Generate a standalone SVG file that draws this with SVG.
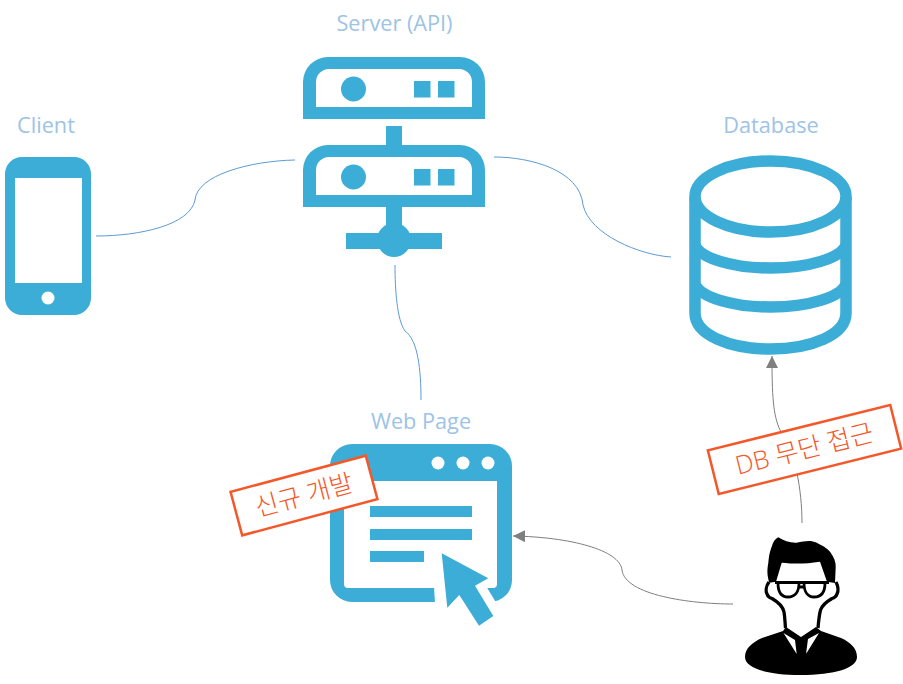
<svg xmlns="http://www.w3.org/2000/svg" width="903" height="684" viewBox="0 0 903 684">
<style>
.lbl{font-family:"Open Sans","Liberation Sans",sans-serif;font-weight:400;font-size:21.700px;fill:#9DC3E6;text-anchor:middle}
.ic{fill:#3CADD6}
.icl{fill:none;stroke:#3CADD6}
.w{fill:#fff}
.blue{fill:none;stroke:#5B9BD5;stroke-width:1}
.gray{fill:none;stroke:#7F7F7F;stroke-width:1;marker-end:url(#ah)}
.tag{fill:#fff;stroke:#F4582A;stroke-width:2.500}
.tagt{font-family:"Open Sans","Noto Sans CJK KR",sans-serif;font-weight:300;font-size:25.500px;fill:#F4582A;text-anchor:middle}
</style>
<defs>
<marker id="ah" markerUnits="userSpaceOnUse" markerWidth="12" markerHeight="12" refX="12" refY="6" orient="auto"><path d="M0 0L12 6L0 12Z" fill="#7F7F7F"/></marker>
<g id="unit">
<path class="ic" fill-rule="evenodd" d="M303 119V82a25 25 0 0 1 25-25H460a25 25 0 0 1 25 25V119ZM316 107H472V82a13 13 0 0 0-13-13H329a13 13 0 0 0-13 13Z"/>
<circle class="ic" cx="353.500" cy="89" r="12.500"/>
<rect class="ic" x="414" y="81" width="16.500" height="16.500"/>
<rect class="ic" x="438" y="81" width="16.500" height="16.500"/>
</g>
</defs>
<rect width="903" height="684" fill="#fff"/>
<g id="connectors">
<path class="blue" d="M96 236C140 236 190 225 195 200C197 175 250 161 295 160"/>
<path class="blue" d="M494 157C530 157 580 170 583 205C590 235 640 255 671 257"/>
<path class="blue" d="M395 265C395 290 397 320 405 331C418 340 421 370 421 400"/>
<path class="gray" d="M733 604C690 604 625 595 622 570C620 550 570 537 513 536"/>
<path class="gray" d="M802 523C802 490 795 450 780 430C773 415 772 395 772 356"/>
</g>
<g id="client">
<text class="lbl" x="46" y="132.500">Client</text>
<rect class="ic" x="5" y="157" width="86" height="158" rx="17"/>
<rect class="w" x="15" y="178" width="67" height="105"/>
<circle class="w" cx="48" cy="298" r="6.500"/>
</g>
<g id="server">
<text class="lbl" x="394.500" y="30.500">Server (API)</text>
<use href="#unit"/>
<use href="#unit" y="88"/>
<rect class="ic" x="386" y="126" width="16" height="20"/>
<rect class="ic" x="386" y="207" width="16" height="30"/>
<rect class="ic" x="346" y="233" width="96" height="16"/>
<circle class="ic" cx="394" cy="240" r="17"/>
</g>
<g id="database">
<text class="lbl" x="771" y="132.500">Database</text>
<g class="icl" stroke-width="11.500">
<ellipse cx="770.500" cy="196.500" rx="75.500" ry="35.500"/>
<path d="M695 197V313C695 335 730 349 770.500 349C811 349 846 335 846 313V197"/>
<path d="M695 245C700 258 732 268 770.500 268C809 268 841 258 846 245"/>
<path d="M695 284C700 297 732 307 770.500 307C809 307 841 297 846 284"/>
</g>
</g>
<g id="webpage">
<text class="lbl" x="421" y="428.500">Web Page</text>
<path class="ic" fill-rule="evenodd" d="M330 466a22 22 0 0 1 22-22H490a22 22 0 0 1 22 22V580a22 22 0 0 1-22 22H352a22 22 0 0 1-22-22ZM344 481V584a4 4 0 0 0 4 4H493a4 4 0 0 0 4-4V481Z"/>
<path class="w" d="M434 586L486 586L497 604L435 604Z"/>
<path class="ic" d="M441.700 553.300L488.300 578.300L475 585.700L493.300 616L479 625.700L459.300 595L447.300 607.700Z"/>
<circle class="w" cx="438" cy="463" r="6.500"/>
<circle class="w" cx="463" cy="463" r="6.500"/>
<circle class="w" cx="488" cy="463" r="6.500"/>
<rect class="ic" x="370" y="506" width="102" height="11"/>
<rect class="ic" x="370" y="529" width="102" height="11"/>
<rect class="ic" x="370" y="551" width="54" height="11"/>
</g>
<g id="person">
<path d="M745 657C745 648 753 642 762 638L783 631L786 627L801 637L816 627L821 631L841 638C850 642 857 648 857 657C857 668 835 675 800 675C767 675 745 668 745 657Z" fill="#000"/>
<path d="M778.300 537.300C784 541 790 543 796.700 542.700C805 541 811 540 816.700 542.700C823 546 827 548 830 551.700C834 557 836 562 835.700 566.700L835 583L827 581.700L820 561.700C805 564 795 564 781.700 562.700L776 581.700L769.300 582.700C767 575 767 570 768.300 563C769 555 770 551 771.700 546.700C773 542 775 539 778.300 537.300Z" fill="#000"/>
<path d="M769 582C766 586 765.500 591 767 594C768 597 770 598 772 598.500C778 602 783 607 784 612C785 618 785 623 785.500 628M836 582C838 586 838.500 591 837 594C836 597 834 598 832 598.500C826 602 822 606 820.500 610C819 616 818.500 622 818 628" fill="none" stroke="#000" stroke-width="3.300"/>
<g fill="none" stroke="#000" stroke-width="2.800">
<path d="M775 582.500H829"/>
<path d="M778 583C778 593 782 597 788 597C795 597 799 592 799 583M804 583C804 592 808 597 814 597C821 597 825 593 825 583M799 587H804"/>
</g>
<path class="w" d="M783.500 633L795 640L796.700 654ZM819 633L808 639L806 654Z"/>
<path d="M795 637H808L805 645L806.500 655H797L798.500 645Z" fill="#000"/>
</g>
<g id="tag-new">
<rect class="tag" x="234" y="473" width="140" height="45" transform="rotate(-15 304 495.500)"/>
<text class="tagt" x="304" y="504" transform="rotate(-15 304 495.500)">신규 개발</text>
</g>
<g id="tag-db">
<rect class="tag" x="710.500" y="427" width="188" height="45" transform="rotate(-14 804.500 449.500)"/>
<text class="tagt" x="804.500" y="458" transform="rotate(-14 804.500 449.500)">DB 무단 접근</text>
</g>
</svg>
